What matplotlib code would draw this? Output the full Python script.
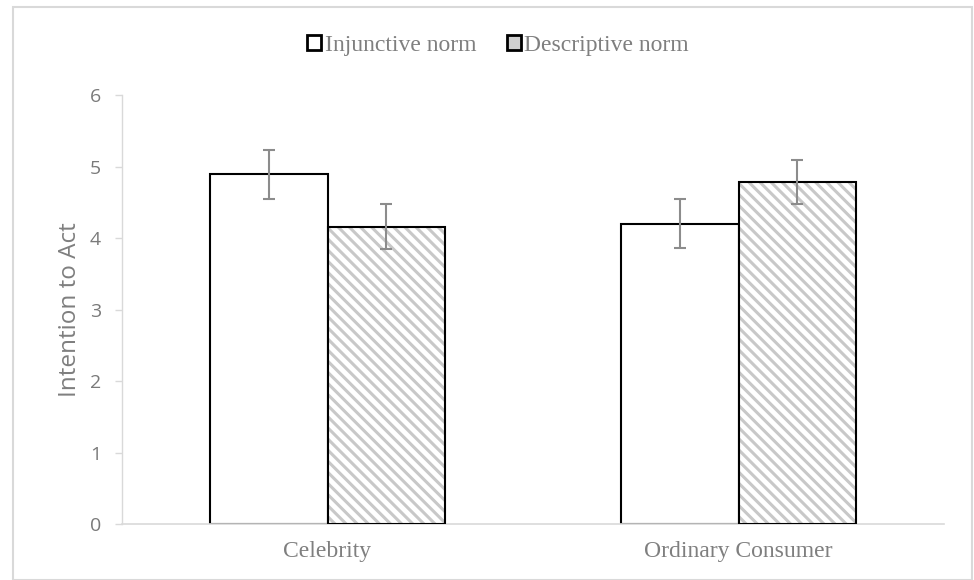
import matplotlib
matplotlib.use("Agg")
import matplotlib.pyplot as plt
import numpy as np
from matplotlib.patches import Rectangle, Patch

plt.rcParams['hatch.linewidth'] = 2.2

categories = ["Celebrity", "Ordinary Consumer"]
series_names = ["Injunctive norm", "Descriptive norm"]
injunctive = [4.89, 4.20]
descriptive = [4.16, 4.78]
injunctive_err = [0.345, 0.34]
descriptive_err = [0.31, 0.31]
yticks = [0, 1, 2, 3, 4, 5, 6]

fig = plt.figure(figsize=(9.74, 5.8), dpi=100)
ax = fig.add_axes([122/974, (580-524)/580, (944-122)/974, (524-95)/580])

x = np.arange(len(categories))
w = 0.287
grey_txt = "#7f7f7f"
axis_grey = "#d9d9d9"
hatch_grey = "#c8c8c8"

# injunctive bars (white)
ax.bar(x - w/2, injunctive, width=w, color="white", edgecolor="black", linewidth=1.5, zorder=2)
# descriptive bars: hatch layer then outline
ax.bar(x + w/2, descriptive, width=w, color="white", edgecolor=hatch_grey, linewidth=0,
       hatch="\\\\\\", zorder=2)
ax.bar(x + w/2, descriptive, width=w, fill=False, edgecolor="black", linewidth=1.5, zorder=3)

ax.errorbar(x - w/2, injunctive, yerr=injunctive_err, fmt="none", ecolor="#8c8c8c",
            elinewidth=1.5, capsize=4, capthick=1.5, zorder=4)
ax.errorbar(x + w/2, descriptive, yerr=descriptive_err, fmt="none", ecolor="#8c8c8c",
            elinewidth=1.5, capsize=4, capthick=1.5, zorder=4)

ax.set_xlim(-0.5, 1.5)
ax.set_ylim(0, 6)
ax.set_yticks(yticks)
ax.set_yticklabels([str(t) for t in yticks], fontsize=14, color="#7a7a7a", family="Open Sans")
ax.set_xticks(x)
ax.set_xticklabels(categories, fontsize=17, color=grey_txt, family="Liberation Serif")
ax.tick_params(axis="x", length=0, pad=12)
ax.tick_params(axis="y", length=5, width=1, color=axis_grey, pad=10)
for s in ["top", "right"]:
    ax.spines[s].set_visible(False)
ax.spines["left"].set_color(axis_grey)
ax.spines["bottom"].set_color(axis_grey)
ax.spines["left"].set_linewidth(1)
ax.spines["bottom"].set_linewidth(1.2)
ax.set_ylabel("Intention to Act", fontsize=17.5, color=grey_txt, family="Open Sans", labelpad=6)

# legend handles
handles = [Patch(facecolor="white", edgecolor="black", linewidth=2),
           Patch(facecolor="#d0d0d0", edgecolor="black", linewidth=2)]
leg = fig.legend(handles, series_names, loc="center", bbox_to_anchor=(498/974, 1 - 45/580),
                 ncol=2, frameon=False, prop={"family": "Liberation Serif", "size": 17},
                 handlelength=0.6, handleheight=0.6, handletextpad=0.15, columnspacing=1.3)
for t in leg.get_texts():
    t.set_color(grey_txt)

fig.patches.append(Rectangle((13/974, 0), (972-13)/974, 1 - 7/580, transform=fig.transFigure,
                             fill=False, edgecolor=axis_grey, linewidth=1.5))

fig.savefig("out.png", dpi=100)
